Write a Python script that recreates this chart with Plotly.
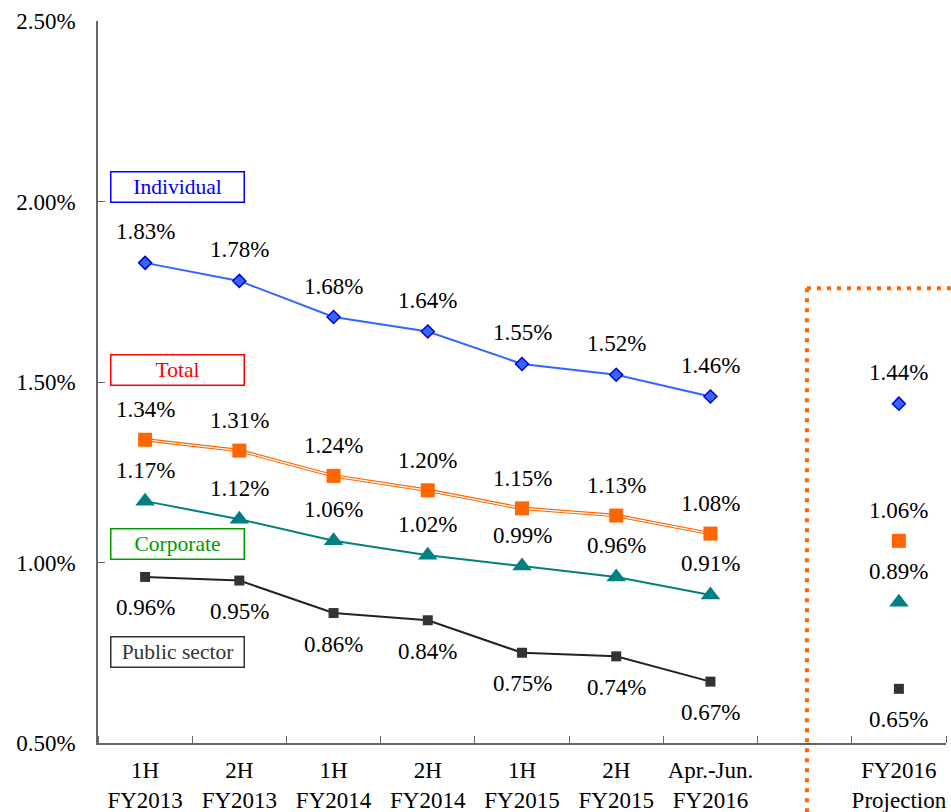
import plotly.graph_objects as go

periods = ["1H<br>FY2013", "2H<br>FY2013", "1H<br>FY2014", "2H<br>FY2014",
           "1H<br>FY2015", "2H<br>FY2015", "Apr.-Jun.<br>FY2016"]
projection_label = "FY2016<br>Projection"

individual = [1.83, 1.78, 1.68, 1.64, 1.55, 1.52, 1.46]
total = [1.34, 1.31, 1.24, 1.20, 1.15, 1.13, 1.08]
corporate = [1.17, 1.12, 1.06, 1.02, 0.99, 0.96, 0.91]
public = [0.96, 0.95, 0.86, 0.84, 0.75, 0.74, 0.67]

proj_individual = 1.44
proj_total = 1.06
proj_corporate = 0.89
proj_public = 0.65

y_ticks = [0.5, 1.0, 1.5, 2.0, 2.5]

FONT = "Liberation Serif"
xs = list(range(len(periods)))
proj_x = len(periods) + 1  # one empty slot before projection

fig = go.Figure()

# Individual
fig.add_trace(go.Scatter(x=xs, y=individual, mode="lines+markers",
                         line=dict(color="#3366ff", width=2),
                         marker=dict(symbol="diamond", size=10, color="#3366ff",
                                     line=dict(color="#0000dd", width=1.5))))
fig.add_trace(go.Scatter(x=[proj_x], y=[proj_individual], mode="markers",
                         marker=dict(symbol="diamond", size=10, color="#3366ff",
                                     line=dict(color="#0000dd", width=1.5))))
# Total (double line)
fig.add_trace(go.Scatter(x=xs, y=total, mode="lines",
                         line=dict(color="#ff6600", width=3.5)))
fig.add_trace(go.Scatter(x=xs, y=total, mode="lines",
                         line=dict(color="#ffffff", width=1.2)))
fig.add_trace(go.Scatter(x=xs + [proj_x], y=total + [proj_total], mode="markers",
                         marker=dict(symbol="square", size=14, color="#ff6600")))
# Corporate
fig.add_trace(go.Scatter(x=xs, y=corporate, mode="lines+markers",
                         line=dict(color="#008080", width=2),
                         marker=dict(symbol="triangle-up", size=17, color="#008080")))
fig.add_trace(go.Scatter(x=[proj_x], y=[proj_corporate], mode="markers",
                         marker=dict(symbol="triangle-up", size=17, color="#008080")))
# Public sector
fig.add_trace(go.Scatter(x=xs, y=public, mode="lines+markers",
                         line=dict(color="#222222", width=2),
                         marker=dict(symbol="square", size=10, color="#333333")))
fig.add_trace(go.Scatter(x=[proj_x], y=[proj_public], mode="markers",
                         marker=dict(symbol="square", size=10, color="#333333")))

annotations = []
def add_labels(xv, yv, shift):
    for x, y in zip(xv, yv):
        annotations.append(dict(x=x, y=y, xref="x", yref="y", text=f"{y:.2f}%",
                                showarrow=False, yshift=shift,
                                xanchor="center", yanchor="middle",
                                font=dict(family=FONT, size=23, color="#000000")))

add_labels(xs + [proj_x], individual + [proj_individual], 31)
add_labels(xs + [proj_x], total + [proj_total], 30)
add_labels(xs + [proj_x], corporate + [proj_corporate], 31)
add_labels(xs + [proj_x], public + [proj_public], -31)

# Series name boxes
for name, color, ypos in [("Individual", "#0000ff", 0.7694),
                          ("Total", "#ff0000", 0.5166),
                          ("Corporate", "#009900", 0.2763),
                          ("Public sector", "#333333", 0.1267)]:
    annotations.append(dict(x=0.0943, y=ypos, xref="paper", yref="paper",
                            xanchor="center", yanchor="middle",
                            text=name, showarrow=False, width=130, height=27,
                            bordercolor=color, borderwidth=1.5, borderpad=1,
                            bgcolor="#ffffff",
                            font=dict(family=FONT, size=21.5, color=color)))

shapes = [
    dict(type="line", xref="paper", yref="paper", x0=0.836, x1=0.836, y0=0.630, y1=-0.1,
         line=dict(color="#ff6600", width=4, dash="4px,6px")),
    dict(type="line", xref="paper", yref="paper", x0=0.836, x1=1.01, y0=0.630, y1=0.630,
         line=dict(color="#ff6600", width=4, dash="4px,6px")),
]

fig.update_layout(
    width=951, height=812,
    margin=dict(l=98, r=5, t=21, b=69),
    paper_bgcolor="#ffffff", plot_bgcolor="#ffffff",
    showlegend=False,
    annotations=annotations,
    shapes=shapes,
    font=dict(family=FONT, size=22, color="#000000"),
)
fig.update_xaxes(
    range=[-0.5, proj_x + 0.5], automargin=False,
    tickmode="array", tickvals=xs + [proj_x], ticktext=periods + [projection_label],
    ticks="", showgrid=False, zeroline=False,
    showline=True, linecolor="#666666", linewidth=1.5,
    ticklabelstandoff=6,
    tickfont=dict(family=FONT, size=23, color="#000000"),
    minor=dict(tickmode="linear", tick0=0.5, dtick=1, ticks="inside", ticklen=7,
               tickcolor="#666666", tickwidth=1.2, showgrid=False),
)
fig.update_yaxes(
    range=[0.5, 2.5], automargin=False,
    tickmode="array", tickvals=y_ticks, ticktext=[f"{v:.2f}%" for v in y_ticks],
    ticks="inside", ticklen=7, tickcolor="#666666", tickwidth=1.2,
    showgrid=False, zeroline=False,
    showline=True, linecolor="#666666", linewidth=1.5,
    ticklabelstandoff=16,
    tickfont=dict(family=FONT, size=23, color="#000000"),
)

fig.write_html("out.html")
